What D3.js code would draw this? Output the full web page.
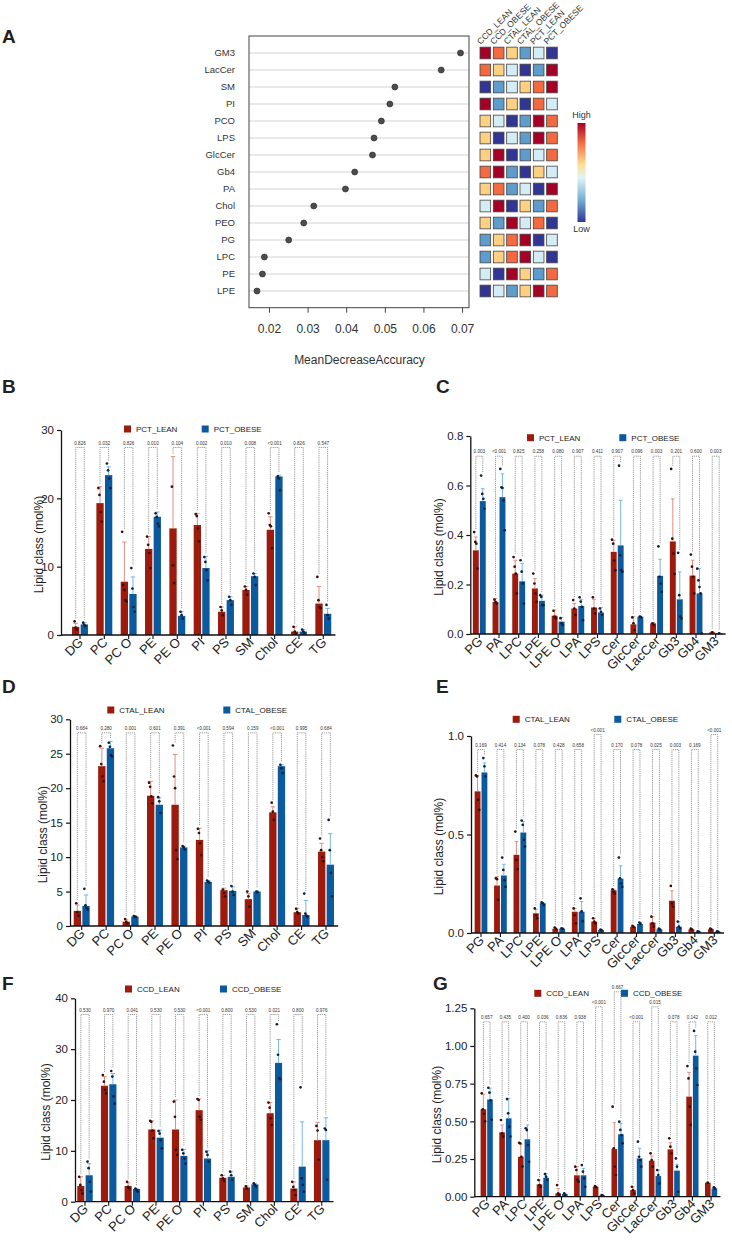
<!DOCTYPE html>
<html>
<head>
<meta charset="utf-8">
<script src="https://cdn.jsdelivr.net/npm/d3@7"></script>
<style>
body{margin:0;background:#fff}
svg{display:block;font-family:"Liberation Sans",Arial,sans-serif}
</style>
</head>
<body>
<svg id="main_svg" width="732" height="1241"></svg>
<script>
// ---- panel A data
const aClasses = ["GM3","LacCer","SM","PI","PCO","LPS","GlcCer","Gb4","PA","Chol","PEO","PG","LPC","PE","LPE"]
const aMDA = [0.0696,0.0646,0.0526,0.0513,0.0491,0.0472,0.0468,0.0422,0.0398,0.0316,0.0290,0.0251,0.0188,0.0183,0.0169]
const aGroups = ["CCD_LEAN","CCD_OBESE","CTAL_LEAN","CTAL_OBESE","PCT_LEAN","PCT_OBESE"]
const aRank = [[6,5,4,2,3,1],[5,4,3,1,2,6],[1,2,3,4,5,6],[6,2,4,1,5,3],[4,3,1,2,6,5],[4,1,3,2,6,5],[4,6,1,2,3,5],[5,6,2,1,4,3],[4,5,2,3,1,6],[3,6,1,4,2,5],[4,2,6,3,5,1],[2,4,5,6,1,3],[2,4,5,6,3,1],[3,1,6,4,2,5],[1,3,2,4,6,5]]
const aTicks = [0.02,0.03,0.04,0.05,0.06,0.07]

// ---- categories
const majorClasses = ["DG","PC","PC O","PE","PE O","PI","PS","SM","Chol","CE","TG"]
const minorClasses = ["PG","PA","LPC","LPE","LPE O","LPA","LPS","Cer","GlcCer","LacCer","Gb3","Gb4","GM3"]

// ---- B  PCT major
const bLean = [1.2,19.3,7.8,12.6,15.6,16.1,3.4,6.6,15.4,0.5,4.6]
const bLeanUp = [1.7,21.7,13.6,14.4,26.1,17.8,4.1,7.1,17.3,1.2,7.1]
const bLeanPts = [[2.0,1.1,0.8],[21.5,20.5,18.0,16.6],[15.1,7.3,6.6,5.1,4.9],[14.4,13.2,12.0,9.8],[21.7,10.2,7.6],[17.7,17.4,15.6,13.7],[4.1,3.6,2.9],[7.1,6.6,5.9],[17.8,16.1,15.9,12.7],[1.2,0.5,0.2],[8.5,5.1,4.1,3.9]]
const bObese = [1.55,23.4,6.0,17.3,2.8,9.8,5.1,8.6,23.2,0.5,3.1]
const bObeseUp = [1.8,24.6,8.5,18.0,3.4,11.5,5.6,9.0,23.4,0.8,3.9]
const bObesePts = [[1.8,1.5,1.3],[25.1,24.1,22.9,21.5],[9.8,6.8,4.1,3.4],[17.8,17.3,16.3,15.9],[3.4,2.9,2.4],[11.4,10.7,9.5,8.0],[5.6,5.1,4.4],[9.0,8.5,7.3],[23.2,22.9,21.2],[0.8,0.5,0.3],[4.4,2.9,2.4]]
const bP = ["0.826","0.032","0.826","0.010","0.104","0.002","0.010","0.008","<0.001","0.826","0.547"]
const bTicks = [0,10,20,30]

// ---- C  PCT minor
const cLean = [0.338,0.130,0.244,0.184,0.074,0.103,0.107,0.332,0.039,0.043,0.374,0.236,0.007]
const cLeanUp = [0.392,0.144,0.298,0.224,0.097,0.123,0.140,0.379,0.070,0.046,0.546,0.298,0.009]
const cLeanPts = [[0.412,0.372,0.365,0.264],[0.139,0.130,0.123],[0.311,0.272,0.244,0.164],[0.244,0.204,0.164,0.130],[0.094,0.070,0.064],[0.137,0.103,0.077],[0.148,0.103,0.083],[0.381,0.365,0.297,0.258],[0.067,0.043,0.016],[0.043,0.036],[0.667,0.385,0.325,0.242],[0.321,0.272,0.231,0.164],[0.007]]
const cObese = [0.537,0.553,0.213,0.134,0.050,0.113,0.087,0.358,0.070,0.235,0.140,0.164,0.003]
const cObeseUp = [0.587,0.647,0.285,0.157,0.067,0.140,0.107,0.540,0.072,0.302,0.251,0.264,0.004]
const cObesePts = [[0.640,0.566,0.546,0.506],[0.667,0.593,0.590,0.540,0.419],[0.298,0.252,0.204,0.123],[0.157,0.150,0.117,0.117],[0.064,0.043,0.036],[0.148,0.131,0.110,0.056],[0.103,0.090,0.077],[0.680,0.318,0.258,0.252],[0.070,0.067],[0.354,0.231,0.204,0.170],[0.328,0.157,0.070,0.063],[0.264,0.217,0.190,0.164,0.003],[0.003]]
const cP = ["0.003","<0.001","0.825","0.258","0.080","0.907","0.411","0.907","0.096","0.003","0.201","0.600","0.003"]
const cTicks = [0,0.2,0.4,0.6,0.8]

// ---- D  CTAL major
const dLean = [2.2,23.2,0.63,18.9,17.6,12.5,5.2,3.9,16.5,2.0,10.8]
const dLeanUp = [3.05,25.8,0.9,21.0,24.9,14.2,5.5,4.7,17.3,2.6,12.0]
const dLeanPts = [[3.3,2.0,1.5],[26.1,23.5,21.7,21.0],[1.0,0.6,0.4],[20.8,20.2,18.8,17.8],[26.2,21.7,20.0,11.0,9.7],[14.1,13.5,12.0,10.3],[5.3,4.8,4.3],[5.0,4.3,2.8],[17.9,16.6,15.4],[2.5,2.0,1.8],[12.7,11.0,10.0,9.4]]
const dObese = [2.9,25.8,1.36,17.6,11.4,6.4,5.1,5.0,23.2,1.6,8.9]
const dObeseUp = [4.5,26.8,1.45,18.6,11.6,6.6,5.7,5.1,23.4,3.7,13.4]
const dObesePts = [[5.4,3.0,2.6,2.4],[26.6,26.0,24.8,24.6],[1.45,1.36,1.3],[18.7,18.1,16.4],[11.6,11.4,11.1],[6.6,6.4,6.3],[5.8,5.0,4.5],[5.0,4.9],[23.4,22.9,22.2],[4.7,1.8,1.5,1.3],[15.4,11.0,7.7,4.3]]
const dP = ["0.684","0.280","0.001","0.601","0.391","<0.001","0.594","0.159","<0.001","0.995","0.684"]
const dTicks = [0,5,10,15,20,25,30]

// ---- E  CTAL minor
const eLean = [0.719,0.241,0.397,0.100,0.022,0.108,0.058,0.217,0.032,0.053,0.164,0.019,0.019]
const eLeanUp = [0.800,0.286,0.464,0.120,0.026,0.125,0.075,0.222,0.036,0.083,0.214,0.022,0.022]
const eLeanPts = [[0.800,0.795,0.676,0.625],[0.278,0.273,0.168],[0.515,0.371,0.324],[0.125,0.090,0.075],[0.028,0.020],[0.125,0.090,0.049],[0.075,0.058,0.049],[0.222,0.210,0.200],[0.036,0.030],[0.083,0.049,0.032],[0.239,0.150,0.134],[0.022,0.017],[0.022,0.017]]
const eObese = [0.815,0.292,0.510,0.151,0.022,0.108,0.015,0.276,0.046,0.019,0.032,0.007,0.007]
const eObeseUp = [0.863,0.349,0.566,0.155,0.026,0.159,0.018,0.341,0.053,0.022,0.058,0.008,0.008]
const eObesePts = [[0.888,0.846,0.795],[0.383,0.320,0.268,0.234],[0.571,0.549,0.473,0.439],[0.155,0.151,0.142],[0.024,0.020],[0.176,0.110,0.060],[0.017,0.013],[0.383,0.278,0.252,0.234],[0.053,0.046],[0.022,0.017],[0.058,0.032,0.024],[0.008,0.006],[0.008,0.006]]
const eP = ["0.169","0.414","0.134","0.078","0.428","0.658","<0.001","0.170","0.078","0.025","0.003","0.169","<0.001"]
const eLevel = [0,0,0,0,0,0,1,0,0,0,0,0,1]
const eTicks = [0,0.5,1.0]

// ---- F  CCD major
const fLean = [3.1,22.8,3.1,14.2,14.2,18.0,4.7,2.8,17.4,2.6,12.1]
const fLeanUp = [4.9,24.6,3.7,15.9,20.0,20.2,5.2,3.1,19.5,3.9,15.6]
const fLeanPts = [[4.9,3.3,2.3,1.6],[24.9,23.6,22.0,21.3],[3.9,2.9,2.6],[15.9,15.7,14.0,12.5],[19.7,16.7,10.2,9.2],[20.2,20.0,16.7,16.1],[5.2,4.6,4.1],[3.0,2.6],[19.5,18.5,16.4,15.1],[3.9,2.9,2.3,1.3],[14.9,14.0,8.3]]
const fObese = [5.2,23.1,2.5,12.6,9.0,8.5,4.9,3.4,27.3,6.9,12.1]
const fObeseUp = [7.5,25.2,2.6,14.1,10.3,10.0,5.9,3.6,31.9,15.7,16.5]
const fObesePts = [[7.9,6.6,3.9,2.0],[25.7,24.6,20.7,19.3],[2.6,2.3,2.0],[13.9,13.4,12.1,10.5],[10.2,9.5,8.5,7.5],[9.8,9.2,7.9],[5.9,5.2,4.3],[3.6,3.3,3.0],[34.9,28.9,24.3,24.1],[22.5,4.6,3.3,2.0],[14.4,14.1,4.3]]
const fP = ["0.530","0.970","0.041","0.530","0.530","<0.001","0.800","0.530","0.021","0.800","0.976"]
const fTicks = [0,10,20,30,40]

// ---- G  CCD minor
const gLean = [0.58,0.427,0.265,0.082,0.022,0.142,0.066,0.316,0.044,0.239,0.314,0.664,0.093]
const gLeanUp = [0.68,0.476,0.347,0.110,0.055,0.200,0.068,0.491,0.066,0.270,0.358,0.825,0.095]
const gLeanPts = [[0.686,0.58,0.55,0.50],[0.509,0.420,0.398],[0.358,0.354,0.265,0.20],[0.110,0.077,0.066],[0.077,0.022,0.011],[0.199,0.177,0.111,0.100],[0.070,0.062],[0.597,0.321,0.199,0.144],[0.066,0.044,0.022],[0.288,0.243,0.199],[0.387,0.332,0.288],[0.867,0.785,0.597,0.476],[0.093]]
const gObese = [0.645,0.52,0.381,0.126,0.018,0.142,0.009,0.414,0.254,0.137,0.173,0.936,0.055]
const gObeseUp = [0.72,0.653,0.476,0.155,0.022,0.188,0.011,0.487,0.321,0.177,0.215,1.069,0.062]
const gObesePts = [[0.723,0.69,0.64,0.51],[0.648,0.553,0.464,0.40],[0.454,0.442,0.343,0.232],[0.150,0.133,0.111],[0.022,0.011],[0.21,0.166,0.122,0.066],[0.011,0.007],[0.498,0.443,0.409,0.354],[0.365,0.265,0.243,0.199],[0.177,0.144,0.088],[0.254,0.199,0.033],[1.10,0.962,0.852,0.741],[0.062,0.053]]
const gP = ["0.657","0.435","0.400","0.036","0.836","0.938","<0.001","0.667","<0.001","0.015","0.078","0.142","0.012"]
const gLevel = [0,0,0,0,0,0,1,2,0,1,0,0,0]
const gTicks = [0,0.25,0.5,0.75,1.0,1.25]

const RED = "#9c1b0c", BLUE = "#0c5a9e"
const RED_ERR = "#e07f70", BLUE_ERR = "#6aaee0"
const heatColors = ["#313695","#5e9ccb","#d4ecf4","#fdd082","#f36a41","#a50026"]

let svg = d3.select("#main_svg")

function panel_letter(txt, x, y){
    svg.append("text")
        .attr("x", x)
        .attr("y", y)
        .attr("font-size", 19)
        .attr("font-weight", "bold")
        .attr("fill", "#222")
        .text(txt)
}

function draw_rf(){
    let g = svg.append("g")
    let left = 249, right = 469, top = 36, bottom = 307.7
    let x = d3.scaleLinear().domain([0.01482, 0.0718]).range([left, right])
    let y = d3.scalePoint().domain(aClasses).range([53, 291])

    g.selectAll(".grid").data(aClasses).enter().append("line")
        .attr("x1", left).attr("x2", right)
        .attr("y1", d => y(d)).attr("y2", d => y(d))
        .attr("stroke", "#e2e2e2").attr("stroke-width", 1.4)

    g.append("rect")
        .attr("x", left).attr("y", top)
        .attr("width", right - left).attr("height", bottom - top)
        .attr("fill", "none").attr("stroke", "#444").attr("stroke-width", 1)

    g.selectAll(".dot").data(aClasses).enter().append("circle")
        .attr("cx", (d, i) => x(aMDA[i]))
        .attr("cy", d => y(d))
        .attr("r", 3)
        .attr("fill", "#4d4d4d").attr("stroke", "#222").attr("stroke-width", 0.6)

    g.selectAll(".rowlab").data(aClasses).enter().append("text")
        .attr("x", 235).attr("y", d => y(d) + 3.3)
        .attr("text-anchor", "end")
        .attr("font-size", 9.5).attr("fill", "#333")
        .text(d => d)

    let ax = d3.axisBottom(x).tickValues(aTicks).tickFormat(d3.format(".2f")).tickSize(5).tickSizeOuter(0)
    let axg = g.append("g").attr("transform", "translate(0," + bottom + ")").call(ax)
    axg.select(".domain").remove()
    axg.selectAll("line").attr("stroke", "#444")
    axg.selectAll("text").attr("font-size", 12).attr("fill", "#333").attr("y", 17).attr("dy", "0.71em")

    g.append("text")
        .attr("x", 359.5).attr("y", 364)
        .attr("text-anchor", "middle")
        .attr("font-size", 12).attr("fill", "#333")
        .text("MeanDecreaseAccuracy")

    // heatmap of group ranks
    let hx = d3.scaleBand().domain(aGroups).range([480, 557.3]).paddingInner(0.2)
    let col = d3.scaleOrdinal().domain([1,2,3,4,5,6]).range(heatColors)
    aClasses.forEach((c, i) => {
        g.selectAll(".cell" + i).data(aRank[i]).enter().append("rect")
            .attr("x", (d, j) => hx(aGroups[j]))
            .attr("y", y(c) - 5.85)
            .attr("width", hx.bandwidth())
            .attr("height", 11.7)
            .attr("fill", d => col(d))
            .attr("stroke", "#444").attr("stroke-width", 0.8)
    })
    g.selectAll(".collab").data(aGroups).enter().append("text")
        .attr("transform", d => "translate(" + (hx(d) + 0.5) + ",45) rotate(-45)")
        .attr("font-size", 8.6).attr("fill", "#333")
        .text(d => d)

    // colour key
    let defs = svg.append("defs")
    let grad = defs.append("linearGradient").attr("id", "keygrad")
        .attr("x1", 0).attr("y1", 0).attr("x2", 0).attr("y2", 1)
    let stops = [[0,"#a50026"],[0.2,"#f46d43"],[0.42,"#fee090"],[0.55,"#e0f3f8"],[0.78,"#74add1"],[1,"#313695"]]
    grad.selectAll("stop").data(stops).enter().append("stop")
        .attr("offset", d => d[0]).attr("stop-color", d => d[1])
    g.append("rect")
        .attr("x", 577.5).attr("y", 123)
        .attr("width", 8).attr("height", 99)
        .attr("fill", "url(#keygrad)")
    g.append("text").attr("x", 581.5).attr("y", 118).attr("text-anchor", "middle")
        .attr("font-size", 9).attr("fill", "#333").text("High")
    g.append("text").attr("x", 581.5).attr("y", 232).attr("text-anchor", "middle")
        .attr("font-size", 9).attr("fill", "#333").text("Low")
}

function draw_bar_panel(p){
    let g = svg.append("g")
    let n = p.cats.length
    let y = d3.scaleLinear().domain([0, p.ymax]).range([p.y0, p.ytop])
    let x = d3.scaleBand().domain(p.cats)
        .range([p.c0 - p.pitch / 2, p.c0 + p.pitch * (n - 0.5)])
    let xs = d3.scaleBand().domain(["lean", "obese"])
        .range([0, x.bandwidth()]).paddingInner(0.15).paddingOuter(0.49)
    let bw = xs.bandwidth()

    let series = [
        {key: "lean", mean: p.lean, up: p.leanUp, pts: p.leanPts, fill: RED, err: RED_ERR, dot: "#3a0d06"},
        {key: "obese", mean: p.obese, up: p.obeseUp, pts: p.obesePts, fill: BLUE, err: BLUE_ERR, dot: "#0a2142"}
    ]

    series.forEach(s => {
        g.selectAll(".bar_" + s.key).data(p.cats).enter().append("rect")
            .attr("x", d => x(d) + xs(s.key))
            .attr("y", (d, i) => y(s.mean[i]))
            .attr("width", bw)
            .attr("height", (d, i) => p.y0 - y(s.mean[i]))
            .attr("fill", s.fill)

        g.selectAll(".err_" + s.key).data(p.cats).enter().append("path")
            .attr("d", (d, i) => {
                let cx = x(d) + xs(s.key) + bw / 2
                return "M" + cx + "," + y(s.mean[i]) + "V" + y(s.up[i]) +
                    "M" + (cx - bw * 0.3) + "," + y(s.up[i]) + "H" + (cx + bw * 0.3)
            })
            .attr("stroke", s.err).attr("stroke-width", 0.9).attr("fill", "none")

        p.cats.forEach((d, i) => {
            let cx = x(d) + xs(s.key) + bw / 2
            let pts = s.pts[i]
            g.selectAll(".pt_" + s.key + i).data(pts).enter().append("circle")
                .attr("cx", (v, k) => cx + (k - (pts.length - 1) / 2) * 1.1)
                .attr("cy", v => y(v))
                .attr("r", 1.35)
                .attr("fill", s.dot)
        })
    })

    // significance brackets
    p.cats.forEach((d, i) => {
        let lvl = p.levels ? p.levels[i] : 0
        let ly = p.plabY - lvl * 15
        let top = ly + 4.5
        let xr = x(d) + xs("lean") + bw / 2
        let xb = x(d) + xs("obese") + bw / 2
        let yr = y(Math.max(p.leanUp[i], d3.max(p.leanPts[i]))) - 3
        let yb = y(Math.max(p.obeseUp[i], d3.max(p.obesePts[i]))) - 3
        g.append("path")
            .attr("d", "M" + xr + "," + yr + "V" + top + "H" + xb + "V" + yb)
            .attr("fill", "none").attr("stroke", "#555")
            .attr("stroke-width", 0.6).attr("stroke-dasharray", "1.2,0.9")
        g.append("text")
            .attr("x", x(d) + x.bandwidth() / 2).attr("y", ly + 1.6)
            .attr("text-anchor", "middle")
            .attr("font-size", 4.6).attr("fill", "#333")
            .text(p.pvals[i])
    })

    // axes
    let yax = d3.axisLeft(y).tickValues(p.ticks).tickFormat(p.fmt).tickSize(4).tickSizeOuter(0)
    let yg = g.append("g").attr("transform", "translate(" + p.ax + ",0)").call(yax)
    yg.select(".domain").attr("stroke", "#111").attr("stroke-width", 1.3)
    yg.selectAll("line").attr("stroke", "#111").attr("stroke-width", 1.2)
    yg.selectAll("text").attr("font-size", 11.5).attr("fill", "#222")

    let xax = d3.axisBottom(x).tickSize(4).tickSizeOuter(0)
    let xg = g.append("g").attr("transform", "translate(0," + p.y0 + ")").call(xax)
    xg.select(".domain").remove()
    xg.append("line")
        .attr("x1", p.ax).attr("x2", p.c0 + p.pitch * (n - 0.5))
        .attr("stroke", "#111").attr("stroke-width", 1.3)
    xg.selectAll(".tick line").attr("stroke", "#111").attr("stroke-width", 1.1)
    xg.selectAll("text")
        .attr("y", 0).attr("dy", 0)
        .attr("transform", "translate(4,8) rotate(-45)")
        .attr("text-anchor", "end")
        .attr("font-size", 13).attr("fill", "#222")

    g.append("text")
        .attr("transform", "translate(" + p.ylabX + "," + ((p.y0 + p.ytop) / 2 + 12) + ") rotate(-90)")
        .attr("text-anchor", "middle")
        .attr("font-size", 12).attr("fill", "#222")
        .text("Lipid class (mol%)")

    // legend
    let leg = [[p.legend[0], RED, p.names[0]], [p.legend[1], BLUE, p.names[1]]]
    leg.forEach(l => {
        g.append("rect").attr("x", l[0]).attr("y", p.legend[2] - 3.5)
            .attr("width", 7).attr("height", 7).attr("fill", l[1])
        g.append("text").attr("x", l[0] + 12).attr("y", p.legend[2] + 3)
            .attr("font-size", 8).attr("fill", "#222").text(l[2])
    })

    panel_letter(p.letter[0], p.letter[1], p.letter[2])
}

panel_letter("A", 2, 43)
draw_rf()

draw_bar_panel({cats: majorClasses, lean: bLean, leanUp: bLeanUp, leanPts: bLeanPts,
    obese: bObese, obeseUp: bObeseUp, obesePts: bObesePts, pvals: bP,
    ymax: 30, ticks: bTicks, fmt: d3.format("d"),
    ax: 61, y0: 635, ytop: 430, c0: 80, pitch: 24.33, plabY: 443, ylabX: 43,
    legend: [124, 201.7, 429], names: ["PCT_LEAN", "PCT_OBESE"], letter: ["B", 2, 393]})

draw_bar_panel({cats: minorClasses, lean: cLean, leanUp: cLeanUp, leanPts: cLeanPts,
    obese: cObese, obeseUp: cObeseUp, obesePts: cObesePts, pvals: cP,
    ymax: 0.8, ticks: cTicks, fmt: d3.format(".1f"),
    ax: 470.3, y0: 634, ytop: 436, c0: 479.3, pitch: 19.7, plabY: 451.7, ylabX: 442.7,
    legend: [527, 619.3, 437.7], names: ["PCT_LEAN", "PCT_OBESE"], letter: ["C", 436, 393]})

draw_bar_panel({cats: majorClasses, lean: dLean, leanUp: dLeanUp, leanPts: dLeanPts,
    obese: dObese, obeseUp: dObeseUp, obesePts: dObesePts, pvals: dP,
    ymax: 30, ticks: dTicks, fmt: d3.format("d"),
    ax: 70, y0: 926, ytop: 719.3, c0: 81.7, pitch: 24.43, plabY: 728.3, ylabX: 46.7,
    legend: [107.3, 223.3, 710], names: ["CTAL_LEAN", "CTAL_OBESE"], letter: ["D", 2, 693]})

draw_bar_panel({cats: minorClasses, lean: eLean, leanUp: eLeanUp, leanPts: eLeanPts,
    obese: eObese, obeseUp: eObeseUp, obesePts: eObesePts, pvals: eP, levels: eLevel,
    ymax: 1.0, ticks: eTicks, fmt: d3.format(".1f"),
    ax: 471, y0: 933, ytop: 736, c0: 481, pitch: 19.44, plabY: 745, ylabX: 442.7,
    legend: [512.7, 614.3, 719.3], names: ["CTAL_LEAN", "CTAL_OBESE"], letter: ["E", 436, 693]})

draw_bar_panel({cats: majorClasses, lean: fLean, leanUp: fLeanUp, leanPts: fLeanPts,
    obese: fObese, obeseUp: fObeseUp, obesePts: fObesePts, pvals: fP,
    ymax: 40, ticks: fTicks, fmt: d3.format("d"),
    ax: 75, y0: 1201.7, ytop: 998.3, c0: 85, pitch: 23.67, plabY: 1010, ylabX: 50,
    legend: [125, 220, 989], names: ["CCD_LEAN", "CCD_OBESE"], letter: ["F", 2, 990]})

draw_bar_panel({cats: minorClasses, lean: gLean, leanUp: gLeanUp, leanPts: gLeanPts,
    obese: gObese, obeseUp: gObeseUp, obesePts: gObesePts, pvals: gP, levels: gLevel,
    ymax: 1.25, ticks: gTicks, fmt: d3.format(".2f"),
    ax: 474.3, y0: 1196.7, ytop: 1008.3, c0: 486.7, pitch: 18.7, plabY: 1017.3, ylabX: 441,
    legend: [534.3, 621, 993.3], names: ["CCD_LEAN", "CCD_OBESE"], letter: ["G", 433, 990]})
</script>
</body>
</html>
